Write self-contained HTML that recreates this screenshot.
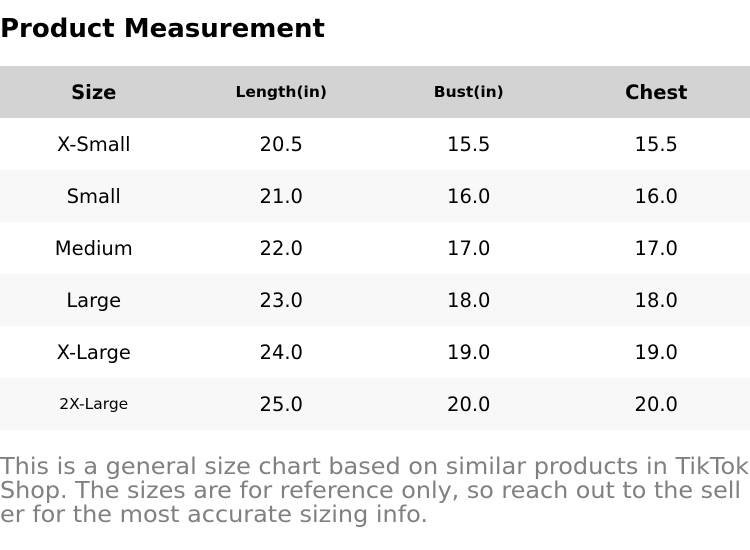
<!DOCTYPE html>
<html><head><meta charset="utf-8"><style>
body{margin:0;width:750px;height:550px;background:#fff;font-family:"DejaVu Sans","Liberation Sans",sans-serif;overflow:hidden;position:relative}
.t{position:absolute;left:0;top:14px;font-size:26px;font-weight:bold;color:#000}
table{position:absolute;top:66px;left:0;width:750px;border-collapse:collapse;table-layout:fixed}
td,th{height:52px;padding:0;text-align:center;font-size:19.5px;color:#000}
th{background:#d3d3d3;font-weight:bold}
th.s{font-size:15.5px}
tr:nth-child(odd) td{background:#f8f8f8}
td.sm{font-size:15.5px}
</style></head><body>
<div class="t">Product Measurement</div>
<table>
<tr><th>Size</th><th class="s">Length(in)</th><th class="s">Bust(in)</th><th>Chest</th></tr>
<tr><td>X-Small</td><td>20.5</td><td>15.5</td><td>15.5</td></tr>
<tr><td>Small</td><td>21.0</td><td>16.0</td><td>16.0</td></tr>
<tr><td>Medium</td><td>22.0</td><td>17.0</td><td>17.0</td></tr>
<tr><td>Large</td><td>23.0</td><td>18.0</td><td>18.0</td></tr>
<tr><td>X-Large</td><td>24.0</td><td>19.0</td><td>19.0</td></tr>
<tr><td class="sm">2X-Large</td><td>25.0</td><td>20.0</td><td>20.0</td></tr>
</table>
<svg width="750" height="550" style="position:absolute;left:0;top:0">
<g fill="#808080" font-family="DejaVu Sans, Liberation Sans, sans-serif" font-size="23">
<text x="0" y="474" textLength="749" lengthAdjust="spacingAndGlyphs">This is a general size chart based on similar products in TikTok</text>
<text x="0" y="498" textLength="741" lengthAdjust="spacingAndGlyphs">Shop. The sizes are for reference only, so reach out to the sell</text>
<text x="0" y="522" textLength="428" lengthAdjust="spacingAndGlyphs">er for the most accurate sizing info.</text>
</g></svg>
</body></html>
